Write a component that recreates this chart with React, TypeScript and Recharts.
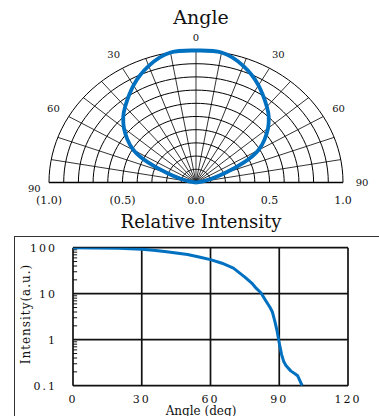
import React from 'react';
import { ComposedChart, Line, XAxis, YAxis, Scatter, CartesianGrid, ReferenceLine } from 'recharts';

// ---- Polar (directivity) data: angle (deg) vs relative radius ----
const polarAngles = [0, 10, 20, 30, 40, 45, 50, 55, 60, 65, 70, 75, 80, 90];
const polarValues = [1.0, 1.0, 0.94, 0.85, 0.75, 0.7, 0.64, 0.57, 0.49, 0.36, 0.21, 0.11, 0.05, 0];

// ---- Relative intensity (log) data ----
const intensityAngles = [0, 10, 20, 30, 35, 40, 45, 50, 55, 60, 65, 70, 75, 78, 80, 82, 84, 86, 87, 88, 89, 90, 91, 92, 93, 95, 97, 98, 100];
const intensityValues = [100, 99, 97, 93, 88, 83, 77, 71, 63, 55, 46, 36, 23, 17, 13, 10.5, 7.2, 5, 4, 2.6, 1.6, 0.85, 0.48, 0.33, 0.27, 0.21, 0.18, 0.165, 0.1];

// ---- Tick labels ----
const xTicks = [0, 30, 60, 90, 120];
const yTicks = [0.1, 1, 10, 100];
const radiusTickValues = [-1, -0.5, 0, 0.5, 1];
const radiusTickLabels = ['(1.0)', '(0.5)', '0.0', '0.5', '1.0'];
const angleTickLabels = ['90', '60', '30', '0', '30', '60', '90'];
const angleTickAngles = [-90, -60, -30, 0, 30, 60, 90];

const FONT = '"DejaVu Serif", serif';
const BLUE = '#0070c0';
const rad = (d: number) => (d * Math.PI) / 180;

// polar curve, mirrored to both sides
const polarCurve = [
  ...polarAngles.slice().reverse().map((a, i) => {
    const v = polarValues[polarAngles.length - 1 - i];
    return { x: -v * Math.sin(rad(a)), y: v * Math.cos(rad(a)) };
  }),
  ...polarAngles.slice(1).map((a, i) => {
    const v = polarValues[i + 1];
    return { x: v * Math.sin(rad(a)), y: v * Math.cos(rad(a)) };
  }),
];

// grid geometry
const ringRadii = [0.1, 0.2, 0.3, 0.4, 0.5, 0.6, 0.7, 0.8, 0.9, 1.0];
const ringSteps: number[] = [];
for (let a = -90; a <= 90; a += 3) ringSteps.push(a);
const rings = ringRadii.map((r) => ringSteps.map((a) => ({ x: r * Math.sin(rad(a)), y: r * Math.cos(rad(a)) })));
const spokeAngles: number[] = [];
for (let a = -80; a <= 80; a += 10) spokeAngles.push(a);
const spokes = spokeAngles.map((a) => [
  { x: 0, y: 0 },
  { x: Math.sin(rad(a)), y: Math.cos(rad(a)) },
]);

const angleLabelPts = angleTickAngles.map((a, i) => {
  let r = 1.12;
  if (a === 0) r = 1.1;
  let x = r * Math.sin(rad(a));
  let y = r * Math.cos(rad(a));
  if (a === 90) { x = 1.13; y = 0.0; }
  if (a === -90) { x = -1.1; y = -0.045; }
  return { x, y, text: angleTickLabels[i] };
});
const radiusLabelPts = radiusTickValues.map((v, i) => ({ x: v, y: -0.14, text: radiusTickLabels[i] }));

const intensityRows = intensityAngles.map((a, i) => ({ angle: a, value: intensityValues[i] }));

const minorTicks: number[] = [];
[0.1, 1, 10].forEach((d) => {
  for (let k = 2; k <= 9; k++) minorTicks.push(d * k);
});

const makeLabel = (size: number) => (props: any) => {
  const { cx, cy, payload } = props;
  return (
    <text x={cx} y={cy} textAnchor="middle" dominantBaseline="central" fontFamily={FONT} fontSize={size} fill="#111">
      {payload.text}
    </text>
  );
};
const AngleLabel = makeLabel(10);
const RadiusLabel = makeLabel(11);

export default function App() {
  return (
    <div style={{ position: 'absolute', left: 0, top: 0, width: 379, height: 416, background: '#fff', overflow: 'hidden' }}>
      {/* polar chart */}
      <div style={{ position: 'absolute', left: 0, top: 0 }}>
        <ComposedChart width={379} height={210} margin={{ top: 0, right: 0, bottom: 0, left: 0 }}>
          <XAxis type="number" dataKey="x" domain={[-1.3333, 1.2449]} hide allowDataOverflow />
          <YAxis type="number" dataKey="y" domain={[-0.2083, 1.3826]} hide allowDataOverflow />
          {spokes.map((s, i) => (
            <Line key={'s' + i} data={s} dataKey="y" stroke="#000" strokeWidth={0.8} dot={false} isAnimationActive={false} />
          ))}
          {rings.map((r, i) => (
            <Line key={'r' + i} data={r} dataKey="y" stroke="#000" strokeWidth={1} dot={false} isAnimationActive={false} />
          ))}
          <Line data={[{ x: -1, y: 0 }, { x: 1, y: 0 }]} dataKey="y" stroke="#000" strokeWidth={1.6} dot={false} isAnimationActive={false} />
          <Line type="natural" data={polarCurve} dataKey="y" stroke={BLUE} strokeWidth={3.8} dot={false} isAnimationActive={false} strokeLinejoin="round" />
          <Scatter data={angleLabelPts} dataKey="y" shape={AngleLabel} isAnimationActive={false} />
          <Scatter data={radiusLabelPts} dataKey="y" shape={RadiusLabel} isAnimationActive={false} />
        </ComposedChart>
      </div>

      {/* frame of the lower panel */}
      <div style={{ position: 'absolute', left: 14, top: 236, width: 400, height: 300, borderLeft: '1.5px solid #333', borderTop: '1.5px solid #333' }} />

      {/* intensity chart */}
      <div style={{ position: 'absolute', left: 0, top: 230 }}>
        <ComposedChart width={379} height={186} data={intensityRows} margin={{ top: 17.7, right: 31, bottom: 0, left: 0 }}>
          <CartesianGrid stroke="#111" strokeWidth={1.7} />
          <XAxis
            type="number"
            dataKey="angle"
            domain={[0, 120]}
            ticks={xTicks}
            interval={0}
            allowDataOverflow
            axisLine={false}
            tickLine={false}
            tickSize={0}
            tickMargin={9}
            height={30.3}
            tick={{ fontFamily: FONT, fontSize: 11, fill: '#111', letterSpacing: 2 }}
          />
          <YAxis
            type="number"
            scale="log"
            domain={[0.1, 100]}
            ticks={yTicks}
            interval={0}
            allowDataOverflow
            axisLine={false}
            tickLine={false}
            tickSize={0}
            tickMargin={16}
            width={73}
            tick={{ fontFamily: FONT, fontSize: 11, fill: '#111', letterSpacing: 2 }}
          />
          {minorTicks.map((v) => (
            <ReferenceLine key={'m' + v} segment={[{ x: 0, y: v }, { x: 1.8, y: v }]} stroke="#111" strokeWidth={1} />
          ))}
          <Line type="linear" dataKey="value" stroke={BLUE} strokeWidth={3} dot={false} isAnimationActive={false} strokeLinejoin="round" />
        </ComposedChart>
      </div>

      {/* titles and axis labels */}
      <svg width={379} height={416} style={{ position: 'absolute', left: 0, top: 0, pointerEvents: 'none' }}>
        <text x={201} y={23.5} textAnchor="middle" fontFamily={FONT} fontSize={19} fill="#111">Angle</text>
        <text x={201} y={228} textAnchor="middle" fontFamily={FONT} fontSize={18} fill="#111">Relative Intensity</text>
        <text x={201} y={415} textAnchor="middle" fontFamily={FONT} fontSize={12} fill="#111">Angle (deg)</text>
        <text x={0} y={0} transform="translate(30,314) rotate(-90)" textAnchor="middle" fontFamily={FONT} fontSize={12} letterSpacing={1} fill="#111">Intensity(a.u.)</text>
      </svg>
    </div>
  );
}
